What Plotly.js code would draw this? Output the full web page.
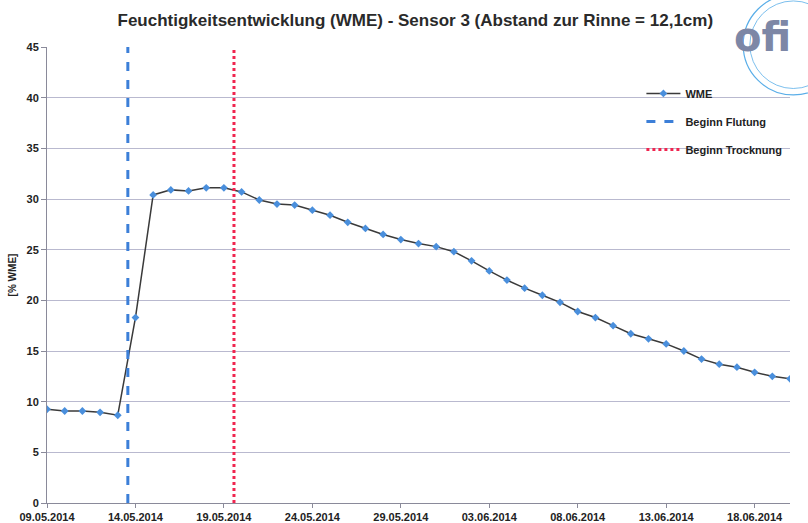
<!DOCTYPE html>
<html>
<head>
<meta charset="utf-8">
<script src="https://cdn.plot.ly/plotly-3.0.1.min.js"></script>
<style>html,body{margin:0;padding:0;background:#fff;}#chart{width:808px;height:523px;}</style>
</head>
<body>
<div id="chart"></div>
<script>
const dates = [
  '2014-05-09','2014-05-10','2014-05-11','2014-05-12','2014-05-13','2014-05-14','2014-05-15',
  '2014-05-16','2014-05-17','2014-05-18','2014-05-19','2014-05-20','2014-05-21','2014-05-22',
  '2014-05-23','2014-05-24','2014-05-25','2014-05-26','2014-05-27','2014-05-28','2014-05-29',
  '2014-05-30','2014-05-31','2014-06-01','2014-06-02','2014-06-03','2014-06-04','2014-06-05',
  '2014-06-06','2014-06-07','2014-06-08','2014-06-09','2014-06-10','2014-06-11','2014-06-12',
  '2014-06-13','2014-06-14','2014-06-15','2014-06-16','2014-06-17','2014-06-18','2014-06-19',
  '2014-06-20'
];
const wme = [
  9.25, 9.08, 9.08, 8.95, 8.66, 18.3, 30.4,
  30.9, 30.8, 31.1, 31.1, 30.7, 29.9, 29.5,
  29.4, 28.9, 28.4, 27.7, 27.1, 26.5, 26.0,
  25.6, 25.3, 24.8, 23.9, 22.9, 22.0, 21.2,
  20.5, 19.8, 18.9, 18.3, 17.5, 16.7, 16.2,
  15.7, 15.0, 14.2, 13.7, 13.4, 12.9, 12.5,
  12.25
];
const flutungDate = '2014-05-13 13:40';
const trocknungDate = '2014-05-19 13:40';
const markerLineY = [0, 45];
const tickDates = ['2014-05-09','2014-05-14','2014-05-19','2014-05-24','2014-05-29','2014-06-03','2014-06-08','2014-06-13','2014-06-18'];
const tickLabels = ['09.05.2014','14.05.2014','19.05.2014','24.05.2014','29.05.2014','03.06.2014','08.06.2014','13.06.2014','18.06.2014'];
const yTicks = [0,5,10,15,20,25,30,35,40,45];

const FONT = 'Liberation Sans Narrow, Liberation Sans, Arial, sans-serif';

const traces = [
  {
    x: dates, y: wme, type: 'scatter', mode: 'lines+markers', name: 'WME',
    line: {color: '#3a3a3a', width: 1.5},
    marker: {symbol: 'diamond', size: 6, color: '#4a8fdc'},
    legendgroup: 'a'
  },
  {
    x: [flutungDate, flutungDate], y: markerLineY, type: 'scatter', mode: 'lines',
    name: 'Beginn Flutung', line: {color: '#3c7fd8', width: 3, dash: 'dash'},
    legendgroup: 'b'
  },
  {
    x: [trocknungDate, trocknungDate], y: markerLineY, type: 'scatter', mode: 'lines',
    name: 'Beginn Trocknung', line: {color: '#f0254f', width: 3, dash: 'dot'},
    legendgroup: 'c'
  }
];

const layout = {
  width: 808, height: 523,
  margin: {l: 47, r: 18, t: 47, b: 20},
  paper_bgcolor: '#ffffff', plot_bgcolor: '#ffffff',
  font: {family: FONT, size: 11, color: '#222'},
  title: {
    text: 'Feuchtigkeitsentwicklung (WME) - Sensor 3 (Abstand zur Rinne = 12,1cm)',
    font: {family: FONT, size: 17, weight: 'bold', color: '#2a2a2a'},
    x: 0.514, xanchor: 'center', y: 0.962, yanchor: 'middle'
  },
  showlegend: true,
  legend: {
    x: 0.8, y: 0.93, xanchor: 'left', yanchor: 'top',
    font: {family: FONT, size: 11, weight: 'bold', color: '#222'},
    bgcolor: 'rgba(255,255,255,0)', traceorder: 'grouped', tracegroupgap: 9,
    itemwidth: 34
  },
  xaxis: {
    type: 'date',
    range: ['2014-05-09', '2014-06-20'],
    tickvals: tickDates, ticktext: tickLabels,
    tickfont: {family: FONT, size: 11, weight: 'bold', color: '#222'},
    showgrid: false, zeroline: false,
    showline: true, linecolor: '#8a8a9a', linewidth: 1,
    ticks: 'outside', ticklen: 4, tickcolor: '#8a8a9a'
  },
  yaxis: {
    range: [0, 45], tickvals: yTicks,
    tickfont: {family: FONT, size: 11, weight: 'bold', color: '#222'},
    showgrid: true, gridcolor: '#b9b9cf', gridwidth: 1,
    zeroline: false, showline: true, linecolor: '#8a8a9a', linewidth: 1,
    ticks: 'outside', ticklen: 5, tickcolor: '#8a8a9a',
    title: {text: '[% WME]', font: {family: FONT, size: 10, weight: 'bold', color: '#222'}, standoff: 8}
  },
  shapes: [
    {type: 'circle', xref: 'paper', yref: 'paper', x0: 0.937, x1: 1.072, y0: 0.895, y1: 1.115,
     line: {color: '#5aaee8', width: 1.2}},
    {type: 'circle', xref: 'paper', yref: 'paper', x0: 0.946, x1: 1.063, y0: 0.909, y1: 1.101,
     line: {color: '#5aaee8', width: 0.8}}
  ],
  annotations: [
    {xref: 'paper', yref: 'paper', x: 0.963, y: 1.022, xanchor: 'center', yanchor: 'middle',
     text: '<span style="color:#7d87a6">of</span><span style="color:#2b8de0">i</span>',
     showarrow: false, font: {family: 'DejaVu Sans, sans-serif', size: 40, weight: 'bold'}}
  ]
};

Plotly.newPlot('chart', traces, layout, {displayModeBar: false, staticPlot: true});
</script>
</body>
</html>
